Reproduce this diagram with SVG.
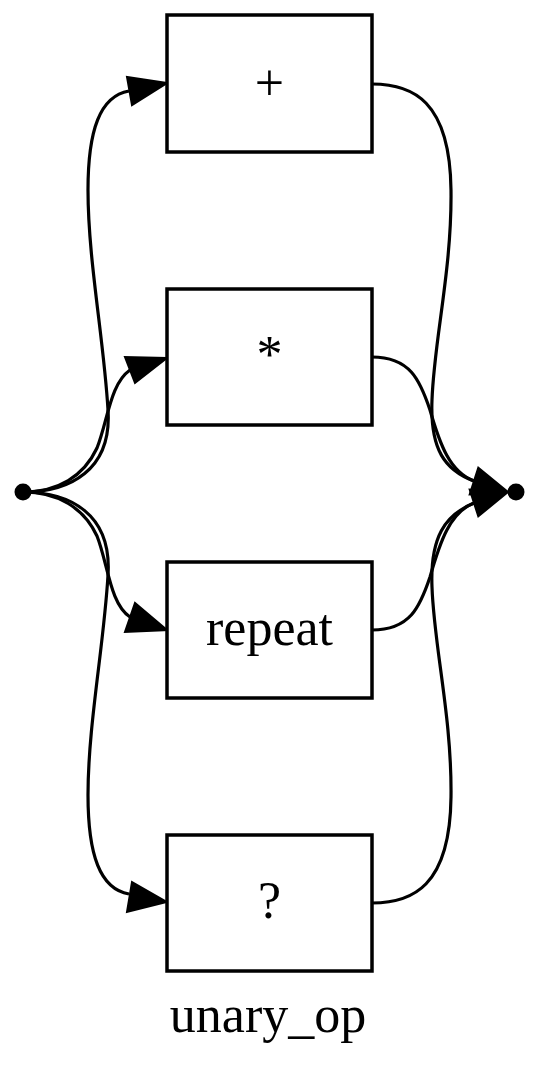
<svg xmlns="http://www.w3.org/2000/svg" width="540" height="1075" viewBox="0 0 540 1075">
<style>
.box{fill:#fff;stroke:#000;stroke-width:3.5}
.lbl{font-family:"Liberation Serif","Times New Roman",serif;font-size:52px;text-anchor:middle;fill:#000}
.edge{fill:none;stroke:#000;stroke-width:3.2}
.arr{fill:#000;stroke:#000;stroke-width:2}
</style>
<rect width="540" height="1075" fill="#fff"/>
<g id="connectors">
<path class="edge" d="M23,492 C70,492 112,470 108,410 C104,340 88,260 88,190 C88,130 100,96 129,91"/>
<polygon class="arr" points="167,83 127,77 132,105"/>
<path class="edge" d="M23,492 C58,492 84,476 97,448 C108,420 110,384 130,370"/>
<polygon class="arr" points="167,358 125,357 135,383"/>
<path class="edge" d="M23,492 C58,492 84,508 97,536 C108,564 110,604 130,617"/>
<polygon class="arr" points="167,630 135,603 125,632"/>
<path class="edge" d="M23,492 C70,492 112,514 108,575 C104,645 88,725 88,795 C88,855 100,889 129,894"/>
<polygon class="arr" points="167,902 132,882 127,912"/>
<path class="edge" d="M372,84 C412,84 450,100 451,190 C452,270 434,340 432,400 C430,450 445,470 474,481"/>
<path class="edge" d="M372,357 C410,357 420,380 430,410 C440,445 450,472 474,481"/>
<path class="edge" d="M372,630 C410,630 420,607 430,577 C440,542 450,512 474,503"/>
<path class="edge" d="M372,903 C412,903 450,887 451,797 C452,717 434,647 432,587 C430,537 445,515 474,503"/>
<polygon class="arr" points="508,492 478.3,467.7 469.7,494.3"/>
<polygon class="arr" points="508,492 478.3,516.3 469.7,489.7"/>
</g>
<g id="start"><circle cx="23" cy="492" r="8.5" fill="#000"/></g>
<g id="end"><circle cx="516" cy="492" r="8.5" fill="#000"/></g>
<g id="node-plus"><rect class="box" x="167" y="15" width="205" height="137"/><text class="lbl" x="269.5" y="100">+</text></g>
<g id="node-star"><rect class="box" x="167" y="289" width="205" height="136"/><text class="lbl" x="269.5" y="372">*</text></g>
<g id="node-repeat"><rect class="box" x="167" y="562" width="205" height="136"/><text class="lbl" x="269.5" y="645">repeat</text></g>
<g id="node-opt"><rect class="box" x="167" y="835" width="205" height="136"/><text class="lbl" x="269.5" y="918">?</text></g>
<text class="lbl" x="268" y="1032">unary_op</text>
</svg>
